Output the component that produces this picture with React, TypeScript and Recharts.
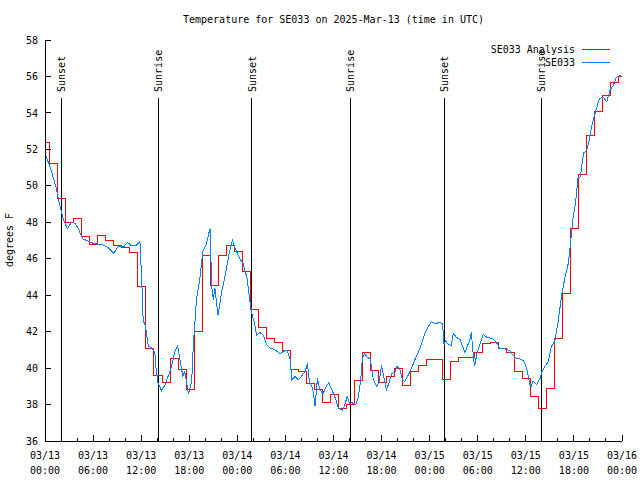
import React from 'react';
import { LineChart, Line, XAxis, YAxis, ReferenceLine } from 'recharts';

// hourly analysis values, hour 0 .. 72 (UTC from 03/13 00:00)
const analysisTemps = [
  52.4, 51.2, 49.3, 48.0, 48.2, 47.2, 46.8, 47.3, 47.0, 46.7, 46.6, 46.35,
  44.5, 41.1, 39.6, 39.2, 40.5, 39.9, 38.8, 42.0, 46.2, 44.55, 46.2, 46.75,
  46.4, 45.3, 43.2, 42.2, 41.6, 41.4, 40.95, 39.95, 39.8, 39.15, 38.85, 38.1,
  38.55, 37.8, 38.0, 39.3, 40.85, 39.85, 39.2, 39.55, 40.0, 39.05, 39.8, 40.15,
  40.45, 40.45, 39.35, 40.35, 40.6, 40.6, 40.85, 41.35, 41.4, 41.05, 40.85, 39.8,
  39.45, 38.45, 37.8, 38.9, 41.6, 44.1, 47.65, 50.6, 52.75, 54.05, 54.95, 55.65, 56.0,
];

// station observations: [hours since 03/13 00:00, temp F]
const observed: [number, number][] = [
  [0, 51.8], [0.8, 50.8], [1.45, 49.8], [1.7, 49.2], [2.1, 48.5], [2.3, 48.15], [2.8, 47.65],
  [3.3, 48.0], [3.75, 47.95], [4.15, 47.65], [4.7, 47.1], [5.2, 47.0], [6.0, 46.85], [7.3, 46.75],
  [7.9, 46.6], [8.6, 46.3], [9.1, 46.65], [9.8, 46.65], [10.3, 46.9], [10.8, 46.7], [11.4, 46.75],
  [11.85, 46.95], [12.07, 44.8], [12.25, 42.6], [12.5, 42.35], [12.7, 41.8], [12.9, 41.2],
  [13.3, 41.1], [13.7, 40.9], [13.85, 40.0], [14.1, 39.2], [14.55, 38.75], [15.0, 39.1],
  [15.4, 39.6], [15.8, 40.1], [16.2, 40.9], [16.55, 41.2], [16.85, 40.45], [17.2, 39.55],
  [17.45, 39.8], [17.9, 38.6], [18.3, 39.25], [18.5, 41.2], [18.9, 43.75], [19.35, 45.0],
  [19.7, 46.4], [20.1, 46.75], [20.5, 47.5], [20.6, 47.65], [20.8, 44.5], [21.0, 43.75],
  [21.2, 44.4], [21.4, 43.6], [21.6, 42.9], [22.05, 44.2], [22.45, 45.0], [22.9, 46.1],
  [23.2, 46.75], [23.4, 47.0], [23.7, 46.6], [24.3, 46.0], [24.7, 45.75], [25.2, 44.95],
  [25.5, 43.9], [25.8, 43.0], [26.1, 42.55], [26.4, 41.8], [26.8, 41.95], [27.25, 41.8],
  [27.65, 41.3], [28.1, 41.1], [28.7, 41.0], [29.3, 40.8], [29.7, 40.9], [30.2, 41.0],
  [30.6, 40.45], [30.8, 39.35], [31.2, 39.55], [31.6, 39.35], [32.0, 39.55], [32.45, 39.8],
  [32.75, 40.25], [33.0, 39.2], [33.4, 38.9], [33.7, 37.9], [34.0, 39.45], [34.3, 38.8],
  [34.7, 38.6], [35.1, 39.0], [35.4, 39.2], [35.8, 38.8], [36.1, 38.5], [36.3, 38.25],
  [36.6, 37.8], [37.1, 37.7], [37.4, 37.95], [37.7, 38.45], [38.0, 38.05], [38.3, 38.1],
  [38.8, 38.0], [39.1, 38.4], [39.4, 39.35], [39.6, 40.55], [39.9, 40.8], [40.2, 40.6],
  [40.55, 40.5], [40.75, 40.1], [40.97, 39.35], [41.4, 39.0], [41.7, 39.25], [42.0, 40.15],
  [42.3, 39.45], [42.6, 38.8], [42.97, 39.25], [43.25, 39.7], [43.7, 39.8], [43.9, 40.1],
  [44.3, 39.9], [44.6, 39.35], [44.9, 39.25], [45.3, 39.6], [45.75, 40.0], [46.15, 40.45],
  [46.6, 40.9], [47.0, 41.35], [47.4, 41.9], [47.8, 42.25], [48.2, 42.55], [48.7, 42.45],
  [49.3, 42.5], [49.6, 42.45], [49.7, 41.9], [49.8, 41.25], [49.95, 41.5], [50.3, 41.3],
  [50.7, 41.25], [50.95, 41.9], [51.3, 41.7], [51.8, 41.55], [52.2, 41.1], [52.4, 40.85],
  [52.7, 41.2], [53.0, 41.55], [53.2, 41.95], [53.45, 40.65], [53.6, 40.1], [53.9, 40.8],
  [54.3, 41.35], [54.7, 41.85], [55.1, 41.7], [55.5, 41.65], [55.9, 41.6], [56.4, 41.35],
  [56.8, 41.05], [57.4, 41.05], [58.0, 40.95], [58.4, 40.7], [58.8, 40.55], [59.3, 40.5],
  [59.7, 40.4], [60.1, 40.0], [60.3, 39.55], [60.5, 39.1], [60.7, 39.0], [60.9, 39.3],
  [61.35, 39.1], [61.8, 39.45], [62.0, 39.8], [62.4, 40.1], [62.8, 40.35], [63.2, 41.2],
  [63.6, 41.45], [64.0, 42.45], [64.5, 44.1], [64.9, 45.0], [65.3, 45.75], [65.6, 46.95],
  [65.9, 48.3], [66.2, 49.05], [66.5, 50.4], [66.8, 50.5], [67.2, 51.8], [67.6, 51.95],
  [67.9, 52.5], [68.3, 53.45], [68.75, 54.15], [69.2, 54.8], [69.7, 54.85], [70.1, 54.6],
  [70.5, 55.25], [70.9, 55.5], [71.3, 55.95], [71.75, 56.05], [72, 56.0],
];

const sunTimes = [2.05, 14.13, 25.83, 38.08, 49.8, 61.9];
const sunLabels = ['Sunset', 'Sunrise', 'Sunset', 'Sunrise', 'Sunset', 'Sunrise'];
const sunLineTop = 54.82;

const xTicks = [0, 2, 4, 6, 8, 10, 12, 14, 16, 18, 20, 22, 24, 26, 28, 30, 32, 34, 36,
  38, 40, 42, 44, 46, 48, 50, 52, 54, 56, 58, 60, 62, 64, 66, 68, 70, 72];
const xDayLabels = ['03/13', '03/13', '03/13', '03/13', '03/14', '03/14', '03/14',
  '03/14', '03/15', '03/15', '03/15', '03/15', '03/16'];
const xTimeLabels = ['00:00', '06:00', '12:00', '18:00', '00:00', '06:00', '12:00',
  '18:00', '00:00', '06:00', '12:00', '18:00', '00:00'];
const yTicks = [36, 38, 40, 42, 44, 46, 48, 50, 52, 54, 56, 58];

const FONT = '"DejaVu Sans Mono", "Liberation Mono", monospace';
const FS = 10;

// analysis is held for an hour, changing a little after the half hour
const analysisPoints = analysisTemps.map((v, k) => ({ t: k === 0 ? 0 : k - 0.4, v }));
analysisPoints.push({ t: 72, v: analysisTemps[72] });
const observedPoints = observed.map(([t, v]) => ({ t, v }));

const BottomTick = ({ x, y, payload }: any) => {
  const major = payload.value % 6 === 0;
  const i = payload.value / 6;
  return (
    <g>
      <line x1={x} y1={y} x2={x} y2={y - (major ? 6 : 3)} stroke="#000" />
      {major && (
        <text x={x} y={y + 18} textAnchor="middle" fontFamily={FONT} fontSize={FS} fill="#000">
          {xDayLabels[i]}
        </text>
      )}
      {major && (
        <text x={x} y={y + 33} textAnchor="middle" fontFamily={FONT} fontSize={FS} fill="#000">
          {xTimeLabels[i]}
        </text>
      )}
    </g>
  );
};

const TopTick = ({ x, y, payload }: any) => {
  const major = payload.value % 6 === 0;
  return <line x1={x} y1={y} x2={x} y2={y + (major ? 6 : 3)} stroke="#000" />;
};

const LeftTick = ({ x, y, payload }: any) => (
  <g>
    <line x1={x} y1={y} x2={x + 6} y2={y} stroke="#000" />
    <text x={x - 7} y={y + 3.6} textAnchor="end" fontFamily={FONT} fontSize={FS} fill="#000">
      {payload.value}
    </text>
  </g>
);

const RightTick = ({ x, y }: any) => <line x1={x} y1={y} x2={x - 6} y2={y} stroke="#000" />;

const sunLabel = (text: string) => (p: any) => {
  const vb = p.viewBox || {};
  const tx = vb.x + 4;
  const ty = vb.y - 6;
  return (
    <text x={tx} y={ty} transform={`rotate(-90, ${tx}, ${ty})`} textAnchor="start"
      fontFamily={FONT} fontSize={FS} fill="#000">
      {text}
    </text>
  );
};

export default function App() {
  return (
    <div style={{ position: 'absolute', left: 0, top: 0, width: 640, height: 480, background: '#fff', shapeRendering: 'crispEdges' }}>
      <LineChart width={640} height={480} margin={{ top: 40, right: 18, bottom: 9, left: 0 }}>
        <XAxis dataKey="t" type="number" domain={[0, 72]} ticks={xTicks} interval={0} allowDataOverflow
          height={30} tickSize={0} tickMargin={0} tickLine={false} stroke="#000" tick={(p: any) => <BottomTick {...p} />} />
        <XAxis xAxisId="top" orientation="top" dataKey="t" type="number" domain={[0, 72]} ticks={xTicks} interval={0}
          allowDataOverflow height={0} tickSize={0} tickMargin={0} tickLine={false} stroke="#000" tick={(p: any) => <TopTick {...p} />} />
        <YAxis type="number" domain={[36, 58]} ticks={yTicks} interval={0} allowDataOverflow width={45}
          tickSize={0} tickMargin={0} tickLine={false} stroke="#000" tick={(p: any) => <LeftTick {...p} />} />
        <YAxis yAxisId="right" orientation="right" type="number" domain={[36, 58]} ticks={yTicks} interval={0}
          allowDataOverflow width={0} tickSize={0} tickMargin={0} tickLine={false} stroke="#000" tick={(p: any) => <RightTick {...p} />} />
        {sunTimes.map((t, i) => (
          <ReferenceLine key={`sun-${i}`} segment={[{ x: t, y: sunLineTop }, { x: t, y: 36 }]} stroke="#000"
            strokeWidth={1} ifOverflow="visible" label={sunLabel(sunLabels[i])} />
        ))}
        <Line data={analysisPoints} dataKey="v" type="stepAfter" stroke="#ff0000" strokeWidth={1}
          dot={false} activeDot={false} isAnimationActive={false} />
        <Line data={observedPoints} dataKey="v" type="linear" stroke="#0080ff" strokeWidth={1}
          dot={false} activeDot={false} isAnimationActive={false} />
      </LineChart>
      <svg width={640} height={480} style={{ position: 'absolute', left: 0, top: 0, pointerEvents: 'none' }}>
        <text x={333.5} y={23} textAnchor="middle" fontFamily={FONT} fontSize={FS} fill="#000">
          Temperature for SE033 on 2025-Mar-13 (time in UTC)
        </text>
        <text x={13} y={240} transform="rotate(-90, 13, 240)" textAnchor="middle" fontFamily={FONT} fontSize={FS} fill="#000">
          degrees F
        </text>
        <text x={575} y={53} textAnchor="end" fontFamily={FONT} fontSize={FS} fill="#000">SE033 Analysis</text>
        <line x1={582} y1={49} x2={610} y2={49} stroke="#ff0000" />
        <text x={575} y={66} textAnchor="end" fontFamily={FONT} fontSize={FS} fill="#000">SE033</text>
        <line x1={582} y1={62} x2={610} y2={62} stroke="#0080ff" />
      </svg>
    </div>
  );
}
